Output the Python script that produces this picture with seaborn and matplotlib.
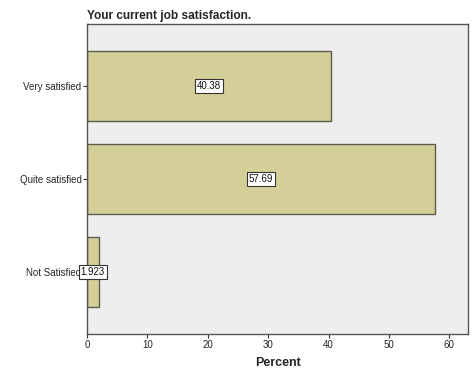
import matplotlib
matplotlib.use("Agg")
import matplotlib.pyplot as plt
import seaborn as sns
import pandas as pd

categories = ["Very satisfied", "Quite satisfied", "Not Satisfied"]
percent = [40.38, 57.69, 1.923]
value_labels = ["40.38", "57.69", "1.923"]

sns.set_style("white")
plt.rcParams['font.family'] = ['Liberation Sans', 'DejaVu Sans']

df = pd.DataFrame({"category": categories, "percent": percent})

fig = plt.figure(figsize=(4.74, 3.79), dpi=100)
ax = fig.add_axes([87/474, 1 - 334/379, (468-87)/474, (334-24)/379])
ax.set_facecolor("#EEEEEE")

sns.barplot(data=df, x="percent", y="category", orient="h", color="#D4CF98",
            saturation=1, width=0.75, edgecolor="#5C5C4C", linewidth=1.0, ax=ax)

for i, (v, lab) in enumerate(zip(percent, value_labels)):
    ax.text(v / 2, i, lab, ha="center", va="center", fontsize=7, color="#111111",
            bbox=dict(boxstyle="square,pad=0.2", facecolor="white", edgecolor="#333333", linewidth=0.8))

ax.set_xlim(0, 63.1)
ax.set_ylim(2.667, -0.667)
ax.set_xticks([0, 10, 20, 30, 40, 50, 60])
ax.tick_params(axis="both", labelsize=7, length=3, width=0.8, color="#333333",
               direction="out", bottom=True, left=True, pad=1)
ax.set_ylabel("")
ax.set_xlabel("Percent", fontsize=9, fontweight="bold", labelpad=5)
for s in ax.spines.values():
    s.set_color("#555555")
    s.set_linewidth(1.0)
ax.text(0, 1.006, "Your current job satisfaction.", transform=ax.transAxes,
        fontsize=8.6, fontweight="bold", ha="left", va="bottom")

fig.savefig("out.png", dpi=100, facecolor="white")
